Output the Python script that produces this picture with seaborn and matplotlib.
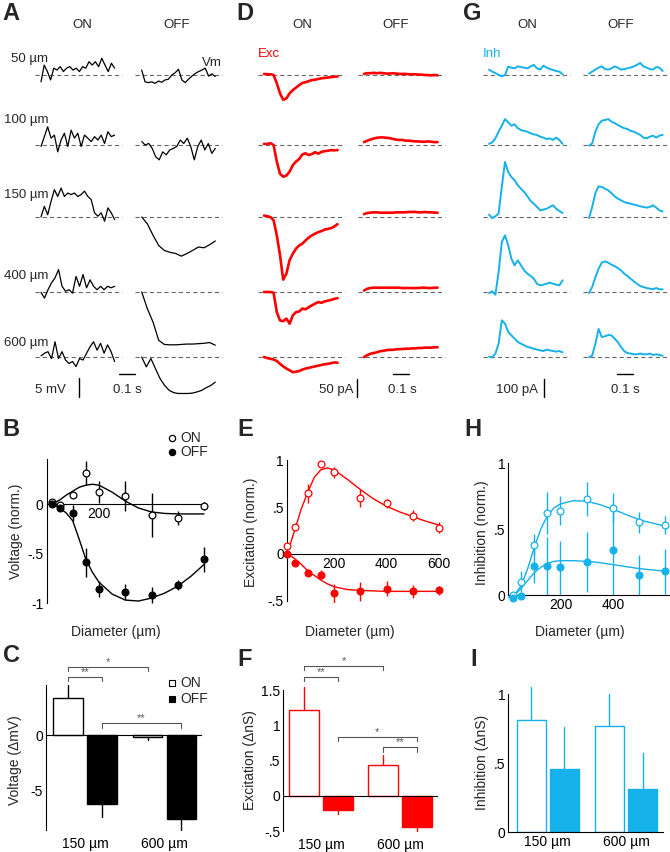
import numpy as np
import pandas as pd
import matplotlib
matplotlib.use("Agg")
import matplotlib.pyplot as plt
import seaborn as sns
from matplotlib.lines import Line2D

# ---------------- data ----------------
diameters = [20, 50, 100, 150, 200, 300, 400, 500, 600]

# B: membrane voltage (normalised)
vm_on = [0.02, -0.01, 0.09, 0.31, 0.12, 0.08, -0.11, -0.14, -0.02]
vm_on_err = [0.03, 0.02, 0.03, 0.12, 0.11, 0.15, 0.22, 0.07, 0.04]
vm_off = [0.0, -0.04, -0.09, -0.59, -0.86, -0.89, -0.92, -0.82, -0.56]
vm_off_err = [0.02, 0.03, 0.08, 0.15, 0.08, 0.08, 0.08, 0.05, 0.13]
fit_x_b = [20, 50, 75, 100, 125, 150, 175, 200, 250, 300, 350, 400, 450, 500, 550, 600]
vm_on_fit = [0.0, 0.04, 0.09, 0.13, 0.17, 0.19, 0.20, 0.19, 0.12, 0.03, -0.04, -0.08, -0.095, -0.10, -0.10, -0.10]
vm_off_fit = [0.0, -0.04, -0.09, -0.17, -0.36, -0.56, -0.69, -0.79, -0.91, -0.97, -0.98, -0.95, -0.90, -0.83, -0.73, -0.61]

# E: excitation (normalised)
exc_on = [0.09, 0.29, 0.65, 0.96, 0.875, 0.60, 0.54, 0.41, 0.28]
exc_on_err = [0.02, 0.03, 0.10, 0.02, 0.06, 0.10, 0.05, 0.06, 0.06]
exc_off = [0.0, -0.10, -0.20, -0.22, -0.42, -0.40, -0.37, -0.40, -0.39]
exc_off_err = [0.02, 0.03, 0.04, 0.05, 0.10, 0.10, 0.08, 0.07, 0.05]
fit_x_e = [20, 35, 50, 75, 100, 125, 150, 175, 200, 250, 300, 350, 400, 450, 500, 550, 600]
exc_on_fit = [0.03, 0.12, 0.25, 0.48, 0.66, 0.82, 0.90, 0.92, 0.90, 0.80, 0.69, 0.59, 0.51, 0.45, 0.40, 0.35, 0.31]
exc_off_fit = [0.0, -0.02, -0.05, -0.11, -0.18, -0.23, -0.28, -0.32, -0.35, -0.38, -0.39, -0.395, -0.40, -0.40, -0.40, -0.40, -0.40]

# H: inhibition (normalised)
inh_on = [0.0, 0.10, 0.38, 0.62, 0.64, 0.73, 0.66, 0.55, 0.53]
inh_on_err = [0.02, 0.08, 0.08, 0.16, 0.11, 0.13, 0.11, 0.08, 0.07]
inh_off = [-0.02, -0.01, 0.22, 0.22, 0.21, 0.25, 0.34, 0.15, 0.18]
inh_off_err = [0.02, 0.02, 0.13, 0.22, 0.20, 0.23, 0.34, 0.15, 0.17]
fit_x_h = [0, 25, 50, 75, 100, 125, 150, 175, 200, 250, 300, 350, 400, 450, 500, 550, 600]
inh_on_fit = [-0.02, 0.0, 0.07, 0.20, 0.36, 0.50, 0.60, 0.66, 0.69, 0.715, 0.71, 0.685, 0.65, 0.61, 0.57, 0.545, 0.52]
inh_off_fit = [-0.02, 0.0, 0.05, 0.11, 0.17, 0.21, 0.24, 0.255, 0.26, 0.26, 0.255, 0.245, 0.23, 0.215, 0.20, 0.19, 0.18]

# C, F, I: bar charts
bar_sizes = ["150 µm", "600 µm"]
vm_bar_on = [3.3, -0.2]
vm_bar_on_err = [1.2, 0.25]
vm_bar_off = [-6.2, -7.5]
vm_bar_off_err = [1.1, 1.0]
exc_bar_on = [1.22, 0.44]
exc_bar_on_err = [0.33, 0.14]
exc_bar_off = [-0.20, -0.44]
exc_bar_off_err = [0.06, 0.06]
inh_bar_on = [0.81, 0.77]
inh_bar_on_err = [0.24, 0.23]
inh_bar_off = [0.46, 0.31]
inh_bar_off_err = [0.30, 0.26]

# A: Vm traces (mV)
a_on_50 = [-1.8, 2.6, 0.9, -1.3, 1.8, 1.3, 2.2, 0.9, 1.8, 2.2, 1.3, 1.8, 0.9, 2.2, 1.8, 3.5, 2.6, 3.5, 2.2, 4.4, 2.6, 0.9, 3.1, 1.8]
a_off_50 = [1.3, -1.8, -2.0, -1.8, -2.2, -1.6, -1.9, -1.3, -1.1, 0.0, 0.6, 1.5, -1.3, -2.0, -1.1, -0.3, 0.4, 0.9, 1.3, 1.8, -0.3, 0.3, -0.4]
a_on_100 = [-0.4, 2.2, 4.8, 1.8, 2.6, -1.8, 1.3, 3.1, -0.4, 3.9, 1.8, 3.1, -0.4, 2.6, 1.8, 0.9, 2.2, 1.3, 2.6, 0.4, 3.5, 2.2, 2.6]
a_off_100 = [0.9, 0.0, 0.4, -0.9, -3.1, -3.9, -1.8, -2.6, -1.3, -0.9, -0.4, 1.3, 0.4, 1.8, -0.4, -3.9, -0.4, 1.3, -1.3, 0.4, -2.2, -0.9]
a_on_150 = [0.0, 2.8, 0.6, 4.1, 7.2, 5.4, 7.6, 5.4, 6.3, 5.9, 6.3, 5.4, 5.9, 6.8, 5.4, 4.6, 1.1, 0.2, 1.1, -1.1, 2.4, 1.1, -0.7]
a_off_150 = [0.0, -1.8, -4.8, -7.5, -8.8, -9.3, -9.6, -10.3, -9.6, -8.8, -7.9, -8.1, -7.3, -6.3]
a_on_400 = [-0.1, -1.6, 0.6, 2.4, 3.7, 5.9, 1.5, 0.2, 0.6, -0.3, 4.1, 1.5, 4.6, 1.1, 3.2, 1.5, 0.6, 1.5, 0.6, 1.5, 1.1, 1.5]
a_off_400 = [0.0, -4.4, -7.9, -12.7, -13.8, -13.9, -13.9, -13.8, -13.7, -13.7, -13.6, -13.5, -13.3, -14.0]
a_on_600 = [0.3, 1.0, 1.4, -0.4, 4.0, -0.4, 1.4, -0.8, -1.7, -1.2, -2.5, -0.4, -0.8, 1.0, 2.7, 4.0, 1.8, 3.6, 1.0, 3.2, 1.4, -1.2]
a_off_600 = [0.0, -2.6, -0.4, -3.1, -5.7, -7.5, -8.8, -9.4, -9.6, -9.6, -9.6, -9.5, -9.2, -8.8, -8.1, -7.5, -6.6]

# D: excitatory currents (pA)
d_on_50 = [3, 2, 2, 0, -23, -51, -69, -65, -51, -42, -35, -28, -22, -20, -17, -14, -13, -11, -9, -8, -7, -6, -5, -4]
d_off_50 = [3, 5, 5, 6, 5, 6, 5, 4, 4, 5, 4, 3, 3, 3, 2, 2, 2, 1, 1, 0, 0, -1, 0, -1]
d_on_100 = [3, 3, 5, 0, -46, -80, -88, -85, -74, -56, -46, -39, -26, -23, -28, -25, -20, -24, -19, -17, -16, -14, -15, -14]
d_off_100 = [8, 12, 15, 18, 20, 21, 21, 20, 19, 17, 15, 14, 14, 12, 12, 11, 10, 10, 9, 9, 10, 9, 8, 8]
d_on_150 = [4, 2, 0, -9, -51, -106, -174, -157, -120, -102, -88, -79, -74, -65, -57, -51, -46, -42, -39, -35, -33, -31, -26, -20]
d_off_150 = [8, 11, 12, 13, 13, 12, 12, 12, 12, 12, 13, 13, 13, 13, 14, 14, 14, 13, 13, 14, 13, 13, 12, 12]
d_on_400 = [0, 0, 0, -2, -56, -79, -81, -74, -88, -65, -56, -54, -46, -48, -42, -37, -32, -28, -30, -26, -24, -22, -19, -17]
d_off_400 = [4, 9, 11, 12, 12, 12, 12, 12, 12, 12, 12, 12, 11, 11, 11, 11, 11, 11, 12, 12, 11, 11, 12, 12]
d_on_600 = [0, -3, -5, -7, -11, -19, -26, -32, -37, -42, -41, -39, -35, -32, -30, -28, -26, -24, -22, -20, -19, -17, -15, -16]
d_off_600 = [0, 5, 9, 11, 13, 16, 17, 19, 20, 20, 21, 22, 22, 23, 23, 24, 24, 25, 25, 26, 26, 26, 27, 27]

# G: inhibitory currents (pA)
g_on_50 = [30, 19, 11, 0, -7, 0, 46, 41, 37, 48, 44, 41, 37, 48, 56, 37, 30, 52, 41, 33, 28, 22, 19, 4]
g_off_50 = [7, 19, 30, 41, 48, 33, 30, 37, 48, 41, 30, 33, 37, 41, 48, 56, 67, 48, 41, 33, 30, 44, 41, 22]
g_on_100 = [6, 15, 37, 74, 107, 144, 126, 107, 115, 93, 83, 78, 74, 65, 59, 56, 46, 41, 33, 37, 28, 41, 28, 6]
g_off_100 = [-4, 9, 74, 115, 135, 139, 144, 130, 122, 111, 102, 93, 89, 78, 74, 65, 56, 41, 37, 46, 52, 41, 52, 56]
g_on_150 = [13, -6, 4, 19, 167, 306, 250, 222, 204, 176, 157, 139, 115, 89, 74, 56, 37, 41, 46, 56, 65, 46, 33, 22]
g_off_150 = [-6, 56, 133, 170, 167, 157, 148, 133, 115, 102, 93, 83, 78, 74, 69, 65, 59, 56, 52, 56, 65, 52, 37, 31]
g_on_400 = [-6, 4, -15, 111, 278, 315, 259, 185, 148, 176, 148, 120, 102, 89, 74, 46, 37, 41, 46, 52, 46, 41, 37, 65]
g_off_400 = [-6, 28, 83, 130, 163, 170, 163, 152, 144, 133, 120, 102, 89, 74, 59, 46, 33, 28, 22, 19, 15, 22, 15, 15]
g_on_600 = [2, -2, 19, 74, 204, 185, 139, 120, 102, 83, 74, 65, 56, 52, 46, 41, 37, 33, 41, 37, 33, 30, 33, 26]
g_off_600 = [-2, 9, 74, 156, 111, 115, 122, 120, 102, 83, 56, 33, 22, 19, 15, 15, 19, 15, 15, 19, 11, 15, 11, 7]

row_labels = ["50 µm", "100 µm", "150 µm", "400 µm", "600 µm"]

# ---------------- style ----------------
sns.set_theme(style="white")
plt.rcParams["font.family"] = ["Liberation Sans", "DejaVu Sans"]
plt.rcParams["lines.scale_dashes"] = False
plt.rcParams["axes.edgecolor"] = "black"
plt.rcParams["axes.linewidth"] = 0.8

RED = "#FF0000"
CYAN = "#14B1EA"
GRAY = "#555555"
W, H = 670, 852
fig = plt.figure(figsize=(W / 100, H / 100), dpi=100)


def add_ax(x0, y0, x1, y1):
    return fig.add_axes([x0 / W, 1 - y1 / H, (x1 - x0) / W, (y1 - y0) / H])


def T(x, y, s, size=10, ha="center", va="center", **kw):
    fig.text(x / W, 1 - y / H, s, fontsize=size, ha=ha, va=va, **kw)


# ---------------- trace panels ----------------
row_px = [75, 145, 217, 292, 357]
TDUR = 0.46
PXS = 160.0  # px per second


def trace_panel(x0, yscale, on_list, off_list, color, on_px, off_px, dash_on, dash_off, lw):
    top, bot = 40, 400
    ax = add_ax(x0, top, x0 + 200, bot)
    ax.set_xlim(0, 200 / PXS)
    ax.set_ylim(0, (bot - top) / yscale)
    ax.axis("off")
    t_on = (on_px - x0) / PXS
    t_off = (off_px - x0) / PXS
    for rp, on, off in zip(row_px, on_list, off_list):
        base = (bot - rp) / yscale
        for (d0, d1) in (dash_on, dash_off):
            ax.plot([(d0 - x0) / PXS, (d1 - x0) / PXS], [base, base], color="#666666",
                    lw=0.8, ls=(0, (3, 2.2)), zorder=1)
        ax.plot(t_on + np.linspace(0, TDUR, len(on)), base + np.array(on), color=color, lw=lw, zorder=2)
        ax.plot(t_off + np.linspace(0, TDUR, len(off)), base + np.array(off), color=color, lw=lw, zorder=2)
    return ax, bot


# A
axA, botA = trace_panel(30, 3.8,
                        [a_on_50, a_on_100, a_on_150, a_on_400, a_on_600],
                        [a_off_50, a_off_100, a_off_150, a_off_400, a_off_600],
                        "black", 41, 141.7, (35, 122), (135, 222), 0.9)
axA.plot([(79 - 30) / PXS] * 2, [(400 - 397) / 3.8, (400 - 397) / 3.8 + 5], color="black", lw=1, clip_on=False)
axA.plot([(119 - 30) / PXS, (119 - 30) / PXS + 0.1], [(400 - 374) / 3.8] * 2, color="black", lw=1, clip_on=False)

# D
axD, _ = trace_panel(250, 0.36,
                     [d_on_50, d_on_100, d_on_150, d_on_400, d_on_600],
                     [d_off_50, d_off_100, d_off_150, d_off_400, d_off_600],
                     RED, 264, 364, (258, 345), (358, 445), 1.9)
axD.plot([(357 - 250) / PXS] * 2, [(400 - 397) / 0.36, (400 - 397) / 0.36 + 50], color="black", lw=1, clip_on=False)
axD.plot([(393 - 250) / PXS, (393 - 250) / PXS + 0.1], [(400 - 374) / 0.36] * 2, color="black", lw=1, clip_on=False)

# G
axG, _ = trace_panel(470, 0.18,
                     [g_on_50, g_on_100, g_on_150, g_on_400, g_on_600],
                     [g_off_50, g_off_100, g_off_150, g_off_400, g_off_600],
                     CYAN, 489, 589, (483, 570), (583, 670), 1.4)
axG.plot([(544 - 470) / PXS] * 2, [(400 - 397) / 0.18, (400 - 397) / 0.18 + 100], color="black", lw=1, clip_on=False)
axG.plot([(617 - 470) / PXS, (617 - 470) / PXS + 0.1], [(400 - 374) / 0.18] * 2, color="black", lw=1, clip_on=False)

# trace panel texts
for lab, x in (("A", 11), ("D", 245), ("G", 472)):
    T(x, 13, lab, size=17, weight="bold")
for x_on, x_off in ((82, 177), (302, 396), (527, 621)):
    T(x_on, 25, "ON", size=9.5)
    T(x_off, 25, "OFF", size=9.5)
for lab, yb in zip(row_labels, [62, 123, 198, 279, 346]):
    T(48, yb, lab, size=9.5, ha="right", va="baseline")
T(222, 66, "Vm", size=9.5, ha="right", va="baseline")
T(258, 57, "Exc", size=9.5, ha="left", va="baseline", color=RED)
T(483, 57, "Inh", size=9.5, ha="left", va="baseline", color=CYAN)
T(50, 393, "5 mV", size=9.5, va="baseline")
T(127, 393, "0.1 s", size=9.5, va="baseline")
T(353, 393, "50 pA", size=9.5, ha="right", va="baseline")
T(402, 393, "0.1 s", size=9.5, va="baseline")
T(538, 393, "100 pA", size=9.5, ha="right", va="baseline")
T(625, 393, "0.1 s", size=9.5, va="baseline")


# ---------------- tuning-curve panels ----------------
def style_ax(ax):
    sns.despine(ax=ax)
    ax.tick_params(direction="in", length=3, width=0.8, labelsize=10, pad=2, colors="black")
    ax.set_xlabel("")
    ax.set_ylabel("")


def curve_panel(ax, color, on, on_err, off, off_err, fx, fon, foff):
    d = np.array(diameters)
    on, on_err, off, off_err = map(np.array, (on, on_err, off, off_err))
    ax.vlines(d, on - on_err, on + on_err, color=color, lw=1, zorder=1)
    ax.vlines(d, off - off_err, off + off_err, color=color, lw=1, zorder=1)
    sns.lineplot(x=fx, y=fon, color=color, lw=1, ax=ax, zorder=2)
    sns.lineplot(x=fx, y=foff, color=color, lw=1, ax=ax, zorder=2)
    sns.scatterplot(x=d, y=on, marker="o", s=24, facecolor="white", edgecolor=color,
                    linewidth=0.9, zorder=3, ax=ax, clip_on=False)
    sns.scatterplot(x=d, y=off, marker="o", s=24, color=color, edgecolor=color,
                    linewidth=0.9, zorder=3, ax=ax, clip_on=False)
    style_ax(ax)
    ax.spines["bottom"].set_position(("data", 0))


# B
axB = add_ax(46.5, 457.5, 209.3, 605.0)
curve_panel(axB, "black", vm_on, vm_on_err, vm_off, vm_off_err, fit_x_b, vm_on_fit, vm_off_fit)
axB.set_xlim(0, 620)
axB.set_ylim(-1.02, 0.47)
axB.spines["left"].set_bounds(-1, 0.45)
axB.spines["bottom"].set_bounds(0, 605)
axB.set_yticks([0, -0.5, -1], ["0", "-.5", "-1"])
axB.set_xticks([200], ["200"])

# E
axE = add_ax(286.75, 458.6, 444.25, 602.6)
curve_panel(axE, RED, exc_on, exc_on_err, exc_off, exc_off_err, fit_x_e, exc_on_fit, exc_off_fit)
axE.set_xlim(20, 620)
axE.set_ylim(-0.52, 1.02)
axE.spines["left"].set_bounds(-0.5, 1)
axE.spines["bottom"].set_bounds(20, 605)
axE.set_yticks([1, 0.5, 0, -0.5], ["1", ".5", "0", "-.5"])
axE.set_xticks([200, 400, 600], ["200", "400", "600"])

# H
axH = add_ax(508, 460.4, 669.4, 601.6)
curve_panel(axH, CYAN, inh_on, inh_on_err, inh_off, inh_off_err, fit_x_h, inh_on_fit, inh_off_fit)
axH.set_xlim(0, 615)
axH.set_ylim(-0.05, 1.02)
axH.spines["left"].set_bounds(0, 1)
axH.spines["bottom"].set_bounds(0, 615)
axH.set_yticks([1, 0.5, 0], ["1", ".5", "0"])
axH.set_xticks([200, 400], ["200", "400"])

for lab, x in (("B", 11), ("E", 245), ("H", 473)):
    T(x, 429, lab, size=17, weight="bold")
T(16, 531, "Voltage (norm.)", rotation=90)
T(251, 532, "Excitation (norm.)", rotation=90)
T(482, 533, "Inhibition (norm.)", rotation=90)
for x in (116, 350, 580):
    T(x, 632, "Diameter (µm)")

# legend B
for yy, fc, lab in ((438, "white", "ON"), (452, "black", "OFF")):
    fig.add_artist(Line2D([172 / W], [1 - yy / H], marker="o", markersize=4.5, markerfacecolor=fc,
                          markeredgecolor="black", markeredgewidth=0.9, transform=fig.transFigure))
    T(180, yy, lab, ha="left")


# ---------------- bar panels ----------------
def bar_panel(ax, on, on_err, off, off_err, color, zero_line=True):
    df = pd.DataFrame({"size": bar_sizes * 2,
                       "cond": ["ON"] * 2 + ["OFF"] * 2,
                       "value": list(on) + list(off)})
    sns.barplot(data=df, x="size", y="value", hue="cond", hue_order=["ON", "OFF"],
                palette={"ON": "white", "OFF": color}, width=0.85, gap=0.12,
                errorbar=None, legend=False, saturation=1, linewidth=1,
                edgecolor=color, ax=ax)
    patches = sorted(ax.patches, key=lambda p: p.get_x())
    errs = [on_err[0], off_err[0], on_err[1], off_err[1]]
    centers = []
    for p, e in zip(patches, errs):
        x = p.get_x() + p.get_width() / 2
        v = p.get_y() + p.get_height()
        s = 1 if v >= 0 else -1
        ax.plot([x, x], [v, v + s * e], color=color, lw=1, zorder=0.5)
        centers.append(x)
    style_ax(ax)
    ax.tick_params(axis="x", length=0, pad=4)
    if zero_line:
        ax.spines["bottom"].set_visible(False)
        ax.axhline(0, color="black", lw=0.8, zorder=3)
    return centers


def bracket(ax, x0, x1, y, drop, text):
    ax.plot([x0, x0, x1, x1], [y - drop, y, y, y - drop], color=GRAY, lw=0.8, clip_on=False)
    ax.text((x0 + x1) / 2, y, text, ha="center", va="bottom", fontsize=8, color=GRAY)


# C
axC = add_ax(46, 683.5, 201.9, 831.3)
cC = bar_panel(axC, vm_bar_on, vm_bar_on_err, vm_bar_off, vm_bar_off_err, "black")
axC.set_xlim(-0.49, 1.47)
axC.set_ylim(-8.6, 4.6)
axC.spines["left"].set_bounds(-8.5, 4.5)
axC.set_yticks([0, -5], ["0", "-5"])
bracket(axC, cC[0], cC[1], 5.2, 0.4, "**")
bracket(axC, cC[0], cC[2], 6.1, 0.4, "*")
bracket(axC, cC[1], cC[3], 1.07, 0.4, "**")
for yy, fc, lab in ((683, "white", "ON"), (699, "black", "OFF")):
    fig.add_artist(Line2D([172 / W], [1 - yy / H], marker="s", markersize=5, markerfacecolor=fc,
                          markeredgecolor="black", markeredgewidth=0.8, transform=fig.transFigure))
    T(180, yy, lab, ha="left")

# F
axF = add_ax(283, 686.6, 438, 832.7)
cF = bar_panel(axF, exc_bar_on, exc_bar_on_err, exc_bar_off, exc_bar_off_err, RED)
axF.set_xlim(-0.48, 1.48)
axF.set_ylim(-0.52, 1.55)
axF.spines["left"].set_bounds(-0.5, 1.5)
axF.set_yticks([1.5, 1, 0.5, 0, -0.5], ["1.5", "1", ".5", "0", "-.5"])
bracket(axF, cF[0], cF[1], 1.69, 0.06, "**")
bracket(axF, cF[0], cF[2], 1.84, 0.06, "*")
bracket(axF, cF[1], cF[3], 0.84, 0.06, "*")
bracket(axF, cF[2], cF[3], 0.69, 0.06, "**")

# I
axI = add_ax(508, 683, 662.7, 832)
bar_panel(axI, inh_bar_on, inh_bar_on_err, inh_bar_off, inh_bar_off_err, CYAN, zero_line=False)
axI.set_xlim(-0.51, 1.47)
axI.set_ylim(0, 1.08)
axI.spines["left"].set_bounds(0, 1)
axI.set_yticks([1, 0.5, 0], ["1", ".5", "0"])
axI.tick_params(axis="x", pad=2)

for lab, x, y in (("C", 11, 656), ("F", 245, 660), ("I", 474, 660)):
    T(x, y, lab, size=17, weight="bold")
T(15, 760, "Voltage (ΔmV)", rotation=90)
T(250, 760, "Excitation (ΔnS)", rotation=90)
T(482, 762, "Inhibition (ΔnS)", rotation=90)

fig.savefig("out.png", dpi=100)
